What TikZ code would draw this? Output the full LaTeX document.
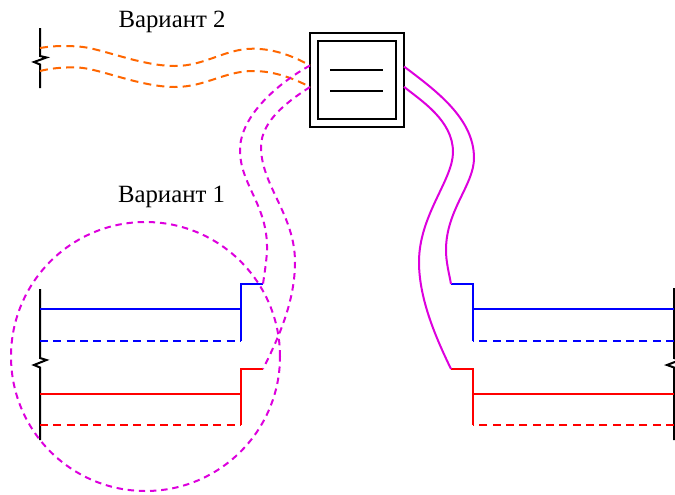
\documentclass[tikz,border=0pt]{standalone}
\usepackage{fontspec}
\setmainfont{Liberation Serif}
\definecolor{magc}{RGB}{221,0,221}
\definecolor{orgc}{RGB}{255,102,0}
\tikzset{
  wire/.style={line width=1.5pt,line join=miter},
  blk/.style={wire,draw=black},
  blu/.style={wire,draw=blue},
  rd/.style={wire,draw=red},
  mag/.style={wire,draw=magc},
  dsh/.style={dash pattern=on 6pt off 4pt},
  orangeline/.style={wire,draw=orgc,dash pattern=on 6pt off 3.9pt},
  magdash/.style={wire,draw=magc,dash pattern=on 4.8pt off 3.6pt},
  lbl/.style={font=\fontsize{18.6pt}{22pt}\selectfont,inner sep=0pt,text=black},
  boxn/.style={draw=black,line width=1.5pt,inner sep=0pt,outer sep=0pt,minimum width=#1*0.75pt,minimum height=#1*0.75pt}
}
\begin{document}
\begin{tikzpicture}[x=0.75pt,y=-0.75pt]
\useasboundingbox (0,0) rectangle (675,494);
\clip (0,0) rectangle (675,494);
% labels
\node[lbl] (v2) at (172,22.2) {Вариант 2};
\node[lbl] (v1) at (171.5,197.2) {Вариант 1};
% box
\node[boxn=94] (outer) at (357,80) {};
\node[boxn=78] (inner) at (357,80) {};
\coordinate (barA) at (330,70); \coordinate (barB) at (383,70);
\coordinate (barC) at (330,91); \coordinate (barD) at (383,91);
\draw[blk] (barA) -- (barB);
\draw[blk] (barC) -- (barD);
% anchors
\coordinate (inL1) at (310,65.5); \coordinate (inL2) at (310,87);
\coordinate (inR1) at (404,66.5); \coordinate (inR2) at (404,86.8);
\coordinate (o1) at (40,48); \coordinate (o2) at (40,71);
% break bars
\draw[blk] (40,28) -- (40,56) -- (46.5,57.5) -- (34,62) -- (40,64.5) -- (40,88);
\draw[blk] (40,289) -- (40,358) -- (46.5,360) -- (34,365) -- (40,367.5) -- (40,440);
\draw[blk] (674,288) -- (674,358) -- (680,360) -- (667,365) -- (674,367.5) -- (674,440);
% circle
\node[circle,magdash,outer sep=0pt,minimum size=269*0.75pt,inner sep=0pt] (ring) at (145.5,356.5) {};
% left lines
\coordinate (bl1) at (40,309); \coordinate (bl2) at (241,309);
\coordinate (bl3) at (40,341); \coordinate (bl4) at (241,341);
\coordinate (bl5) at (241,284); \coordinate (bl6) at (263,284);
\coordinate (rl1) at (40,394); \coordinate (rl2) at (241,394);
\coordinate (rl3) at (40,425); \coordinate (rl4) at (241,425);
\coordinate (rl5) at (241,369); \coordinate (rl6) at (263,369);
\draw[blu] (bl1) -- (bl2);
\draw[blu,dsh] (bl3) -- (bl4);
\draw[blu] (bl4) -- (bl5) -- (bl6);
\draw[rd] (rl1) -- (rl2);
\draw[rd,dsh] (rl3) -- (rl4);
\draw[rd] (rl4) -- (rl5) -- (rl6);
% right lines
\coordinate (br1) at (674,309); \coordinate (br2) at (473,309);
\coordinate (br3) at (674,341); \coordinate (br4) at (473,341);
\coordinate (br5) at (473,284); \coordinate (br6) at (451,284);
\coordinate (rr1) at (674,394); \coordinate (rr2) at (473,394);
\coordinate (rr3) at (674,425); \coordinate (rr4) at (473,425);
\coordinate (rr5) at (473,369); \coordinate (rr6) at (451,369);
\draw[blu] (br1) -- (br2);
\draw[blu,dsh] (br3) -- (br4);
\draw[blu] (br4) -- (br5) -- (br6);
\draw[rd] (rr1) -- (rr2);
\draw[rd,dsh] (rr3) -- (rr4);
\draw[rd] (rr4) -- (rr5) -- (rr6);
% orange cables
\draw[orangeline] (o1) .. controls (52,46) and (62,45.5) .. (78,46.5) .. controls (100,47.5) and (140,66) .. (175,66) .. controls (205,66) and (225,48.7) .. (253,48.7) .. controls (275,48.7) and (295,57) .. (inL1);
\draw[orangeline] (o2) .. controls (50,68.5) and (62,67) .. (78,67.5) .. controls (100,68.5) and (140,87) .. (175,87) .. controls (205,87) and (225,71) .. (253,71) .. controls (275,71) and (295,79) .. (inL2);
% magenta dashed cables
\draw[magdash] (inL1) .. controls (280,82) and (240,115) .. (240,150) .. controls (240,185) and (268,205) .. (267,250) .. controls (266.5,262) and (264.5,273) .. (bl6);
\draw[magdash] (inL2) .. controls (290,100) and (261,120) .. (261,147) .. controls (261,185) and (295,215) .. (295,262) .. controls (295,300) and (280,335) .. (rl6);
% magenta solid cables
\draw[mag] (inR1) .. controls (435,90) and (474,118) .. (474,158) .. controls (474,185) and (446,210) .. (446,250) .. controls (446,262) and (449,273) .. (br6);
\draw[mag] (inR2) .. controls (420,100) and (453,120) .. (453,152) .. controls (453,180) and (419,215) .. (419,262) .. controls (419,300) and (437,340) .. (rr6);
\end{tikzpicture}
\end{document}
